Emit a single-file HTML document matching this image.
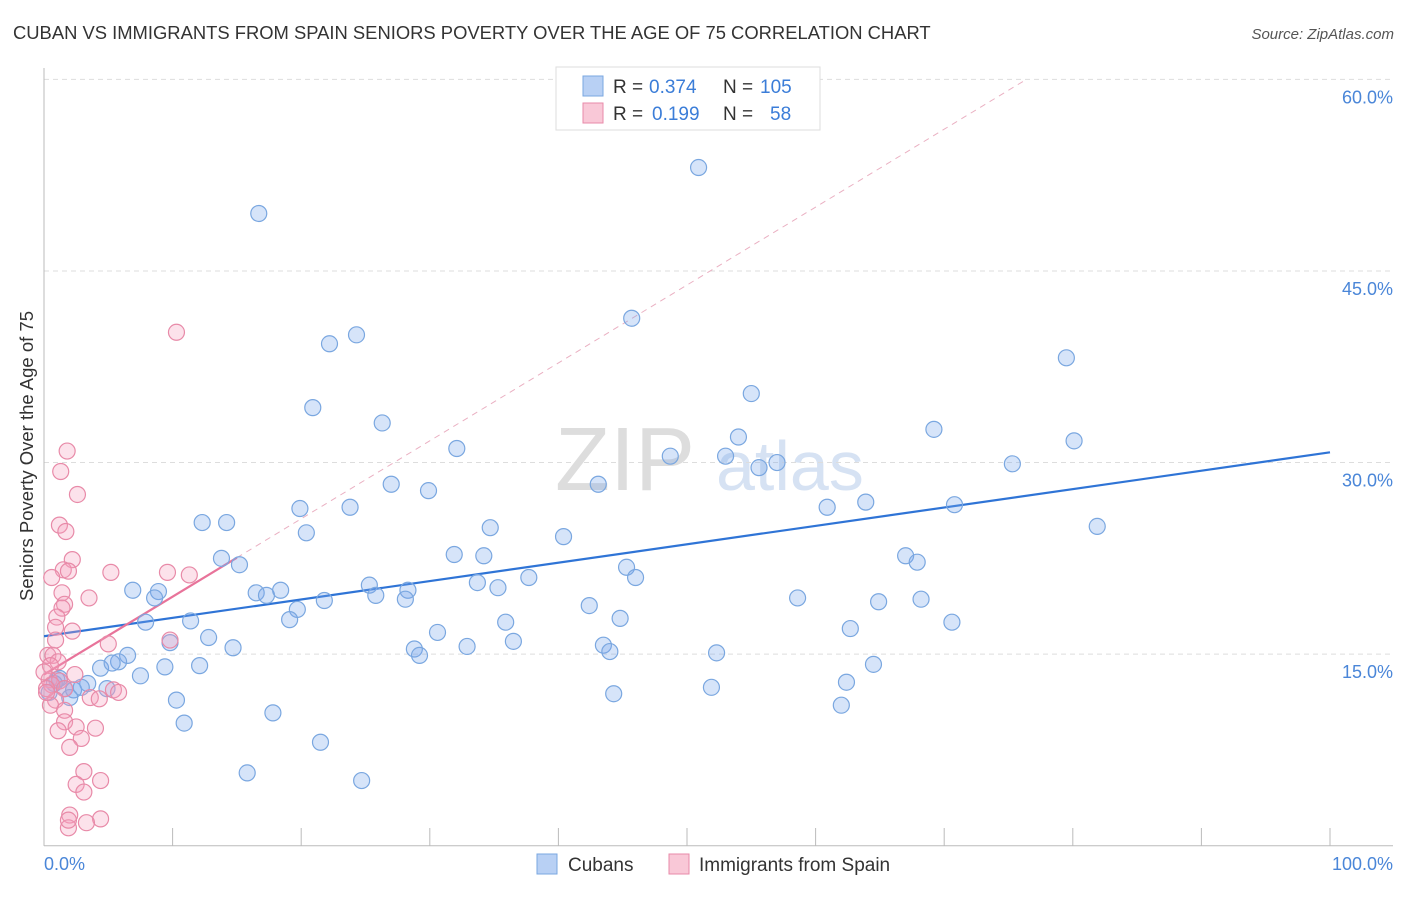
<!DOCTYPE html>
<html><head><meta charset="utf-8">
<style>
body{margin:0;background:#fff;font-family:"Liberation Sans",sans-serif;}
svg text{font-family:"Liberation Sans",sans-serif;}
</style></head>
<body>
<svg id="chart" width="1406" height="892" viewBox="0 0 1406 892" xmlns="http://www.w3.org/2000/svg">
<text x="13" y="39" font-size="18.4" fill="#333">CUBAN VS IMMIGRANTS FROM SPAIN SENIORS POVERTY OVER THE AGE OF 75 CORRELATION CHART</text>
<text x="1394" y="39" font-size="15" fill="#555" font-style="italic" text-anchor="end">Source: ZipAtlas.com</text>
<text transform="translate(33,456) rotate(-90)" font-size="18.5" fill="#333" text-anchor="middle">Seniors Poverty Over the Age of 75</text>
<g>
<text x="555" y="490" font-size="90" fill="#ddd" font-family="Liberation Serif, serif">ZIP</text>
<text x="716" y="490" font-size="70" fill="#d6e2f3">atlas</text>
</g>
<g id="grid"></g>
<g id="axes"></g>
<g id="trends"></g>
<g id="points"></g>
<g>
<rect x="556" y="67" width="264" height="63" fill="#fff" stroke="#ddd"/>
<rect x="583" y="76" width="20" height="20" fill="#b8d0f4" stroke="#7aa7e0"/>
<text x="613" y="93" font-size="19" fill="#333">R =</text>
<text x="649" y="93" font-size="19" fill="#3b7dd8">0.374</text>
<text x="723" y="93" font-size="19" fill="#333">N =</text>
<text x="760" y="93" font-size="19" fill="#3b7dd8">105</text>
<rect x="583" y="103" width="20" height="20" fill="#f9c8d7" stroke="#e88aa8"/>
<text x="613" y="120" font-size="19" fill="#333">R =</text>
<text x="652" y="120" font-size="19" fill="#3b7dd8">0.199</text>
<text x="723" y="120" font-size="19" fill="#333">N =</text>
<text x="770" y="120" font-size="19" fill="#3b7dd8">58</text>
</g>
<g>
<rect x="537" y="854" width="20" height="20" fill="#b8d0f4" stroke="#7aa7e0"/>
<text x="568" y="871" font-size="19" fill="#333">Cubans</text>
<rect x="669" y="854" width="20" height="20" fill="#f9c8d7" stroke="#e88aa8"/>
<text x="699" y="871" font-size="19" fill="#333">Immigrants from Spain</text>
</g>
</svg>
<script>
const yTicks=[15,30,45,60];
const yTickLabels=["15.0%","30.0%","45.0%","60.0%"];
const xTicks=[0,10,20,30,40,50,60,70,80,90,100];
const cubanX=[50.9,16.7,45.7,24.3,22.2,79.5,55.0,20.9,26.3,69.2,54.0,80.1,32.1,48.7,53.0,57.0,55.6,75.3,27.0,29.9,43.1,63.9,60.9,70.8,23.8,19.9,12.3,14.2,34.7,81.9,20.4,40.4,31.9,34.2,67.0,67.9,13.8,15.2,45.3,46.0,37.7,33.7,35.3,25.3,6.9,8.9,8.6,16.5,17.3,18.4,28.3,25.8,28.1,58.6,64.9,68.2,42.4,19.7,21.8,19.1,11.4,7.9,35.9,44.8,70.6,62.7,30.6,12.8,36.5,14.7,32.9,43.5,44.0,28.8,29.2,52.3,6.5,5.8,9.8,4.4,5.3,9.4,12.1,64.5,7.5,1.0,3.4,2.3,4.9,0.4,1.6,2.0,2.9,62.4,51.9,44.3,10.3,17.8,62.0,10.9,21.5,15.8,24.7,0.8,1.2];
const cubanY=[53.1,49.5,41.3,40.0,39.3,38.2,35.4,34.3,33.1,32.6,32.0,31.7,31.1,30.5,30.5,30.0,29.6,29.9,28.3,27.8,28.3,26.9,26.5,26.7,26.5,26.4,25.3,25.3,24.9,25.0,24.5,24.2,22.8,22.7,22.7,22.2,22.5,22.0,21.8,21.0,21.0,20.6,20.2,20.4,20.0,19.9,19.4,19.8,19.6,20.0,20.0,19.6,19.3,19.4,19.1,19.3,18.8,18.5,19.2,17.7,17.6,17.5,17.5,17.8,17.5,17.0,16.7,16.3,16.0,15.5,15.6,15.7,15.2,15.4,14.9,15.1,14.9,14.4,15.9,13.9,14.3,14.0,14.1,14.2,13.3,13.0,12.7,12.2,12.3,12.0,12.3,11.6,12.4,12.8,12.4,11.9,11.4,10.4,11.0,9.6,8.1,5.7,5.1,12.7,13.1];
const spainX=[10.3,1.8,1.3,2.6,1.2,1.7,2.2,1.5,1.9,5.2,9.6,11.3,0.6,1.4,3.5,1.6,1.4,1.0,0.9,2.2,0.9,5.0,9.8,0.3,0.7,1.1,0.5,2.4,0.4,1.2,0.6,1.6,5.4,5.8,3.6,4.3,0.9,0.5,1.6,1.6,2.5,4.0,1.1,2.9,2.0,3.1,2.5,4.4,3.1,2.0,4.4,3.3,1.9,1.9,0.2,0.2,0.0];
const spainY=[40.2,30.9,29.3,27.5,25.1,24.6,22.4,21.6,21.5,21.4,21.4,21.2,21.0,19.8,19.4,18.9,18.6,17.9,17.1,16.8,16.1,15.8,16.1,14.9,14.9,14.4,14.1,13.4,13.0,12.9,12.6,12.3,12.2,12.0,11.6,11.5,11.4,11.0,10.6,9.7,9.3,9.2,9.0,8.4,7.7,5.8,4.8,5.1,4.2,2.4,2.1,1.8,1.4,2.0,12.3,12.0,13.6];
const cubanTrend=[16.4,0.144];
const spainTrend=[13.4,0.61];

const NS="http://www.w3.org/2000/svg";
const X0=44,X1=1330,YB=845.7,YT=79.4;
const sx=v=>X0+(X1-X0)*v/100;
const sy=v=>YB-(YB-YT)*v/60;
function mk(tag,attrs,parent){const e=document.createElementNS(NS,tag);for(const k in attrs)e.setAttribute(k,attrs[k]);parent.appendChild(e);return e;}
const grid=document.getElementById('grid'),axes=document.getElementById('axes'),trends=document.getElementById('trends'),pts=document.getElementById('points');
yTicks.forEach((t,i)=>{
  const l=mk('line',{x1:X0,x2:1393,y1:sy(t),y2:sy(t),stroke:'#ddd','stroke-dasharray':'5,4'},grid);
  
  
  const tx=mk('text',{x:1393,y:sy(t)+24,'font-size':18,fill:'#4a86d8','text-anchor':'end'},axes);
  tx.textContent=yTickLabels[i];
  
  
});
const ax=mk('line',{x1:X0,x2:X0,y1:68,y2:YB,stroke:'#bbb'},axes);


const bx=mk('line',{x1:X0,x2:1393,y1:YB,y2:YB,stroke:'#bbb'},axes);


xTicks.forEach(t=>{
  const l=mk('line',{x1:sx(t),x2:sx(t),y1:828,y2:YB,stroke:'#bbb'},axes);
  
  
});
const xl0=mk('text',{x:44,y:870,'font-size':18,fill:'#4a86d8'},axes);xl0.textContent='0.0%';


const xl1=mk('text',{x:1393,y:870,'font-size':18,fill:'#4a86d8','text-anchor':'end'},axes);xl1.textContent='100.0%';



cubanX.forEach((x,i)=>{
  const c=mk('circle',{cx:sx(x),cy:sy(cubanY[i]),r:8,fill:'rgba(120,165,235,0.3)',stroke:'#7aa7e0','stroke-width':1.2},pts);
  
  
});
spainX.forEach((x,i)=>{
  const c=mk('circle',{cx:sx(x),cy:sy(spainY[i]),r:8,fill:'rgba(245,160,190,0.3)',stroke:'#e88aa8','stroke-width':1.2},pts);
  
  
});
const bt=mk('line',{x1:sx(0),y1:sy(cubanTrend[0]),x2:sx(100),y2:sy(cubanTrend[0]+100*cubanTrend[1]),stroke:'#2f74d6','stroke-width':2.2},trends);


const pEnd=15, pTop=(60-spainTrend[0])/spainTrend[1];
const pt=mk('line',{x1:sx(0),y1:sy(spainTrend[0]),x2:sx(pEnd),y2:sy(spainTrend[0]+pEnd*spainTrend[1]),stroke:'#e8739a','stroke-width':2.2},trends);


const pd=mk('line',{x1:sx(pEnd),y1:sy(spainTrend[0]+pEnd*spainTrend[1]),x2:sx(pTop),y2:sy(60),stroke:'#eab0c2','stroke-width':1,'stroke-dasharray':'6,5'},trends);


</script>
</body></html>
